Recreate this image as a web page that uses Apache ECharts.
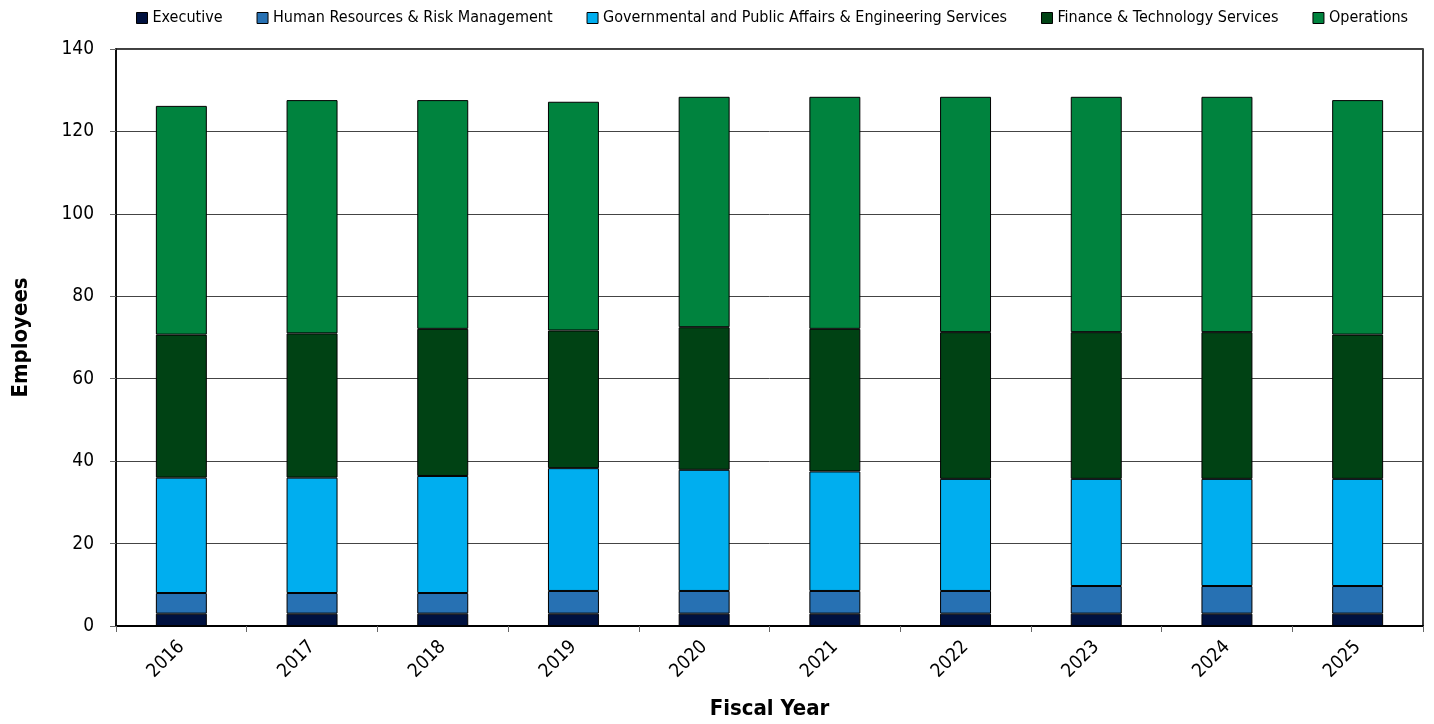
<!DOCTYPE html>
<html><head><meta charset="utf-8">
<script src="https://cdn.jsdelivr.net/npm/echarts@6/dist/echarts.min.js"></script>
<style>html,body{margin:0;padding:0;background:#fff}#c{width:1434px;height:724px}</style>
</head><body><div id="c"></div>
<script>
const years = ['2016','2017','2018','2019','2020','2021','2022','2023','2024','2025'];
const executive = [3,3,3,3,3,3,3,3,3,3];
const humanResources = [5,5,5,5.5,5.5,5.5,5.5,6.7,6.7,6.7];
const governmental = [28,28,28.4,29.8,29.4,29,27.2,26,26,26];
const finance = [34.7,35,35.7,33.4,34.6,34.6,35.6,35.6,35.6,35];
const operations = [55.5,56.6,55.5,55.5,55.9,56.3,57.1,57.1,57.1,56.9];
const yTicks = [0,20,40,60,80,100,120,140];

const FONT = '"DejaVu Sans Condensed","Liberation Sans Narrow",Roboto,sans-serif';
const names = ['Executive','Human Resources & Risk Management','Governmental and Public Affairs & Engineering Services','Finance & Technology Services','Operations'];
const colors = ['#00113f','#2771b3','#00aeef','#004214','#00833e'];
const data = [executive, humanResources, governmental, finance, operations];

const chart = echarts.init(document.getElementById('c'));
chart.setOption({
  animation:false,
  legend:{top:5,left:131,icon:'rect',itemWidth:11,itemHeight:11,itemGap:34,
    textStyle:{fontFamily:FONT,fontSize:16,color:'#000'},
    data:names.map(n=>({name:n,itemStyle:{borderColor:'#000',borderWidth:1}}))},
  grid:{left:116,right:11,top:49,bottom:98,outerBoundsMode:'none',containLabel:false,
    show:true,borderColor:'#000',borderWidth:1.5},
  xAxis:{type:'category',data:years,name:'Fiscal Year',nameLocation:'middle',nameGap:72,
    nameTextStyle:{fontFamily:FONT,fontSize:22,fontWeight:'bold',color:'#000'},
    axisLine:{lineStyle:{color:'#000',width:2}},
    axisTick:{show:true,length:6,lineStyle:{color:'#666'}},
    axisLabel:{rotate:45,fontFamily:FONT,fontSize:19,color:'#000',margin:18}},
  yAxis:{type:'value',min:0,max:140,interval:20,name:'Employees',nameLocation:'middle',nameGap:84,
    nameTextStyle:{fontFamily:FONT,fontSize:22,fontWeight:'bold',color:'#000'},
    axisLine:{show:true,lineStyle:{color:'#000',width:1.5}},
    axisTick:{show:true,length:6,lineStyle:{color:'#666'}},
    axisLabel:{fontFamily:FONT,fontSize:19,color:'#000',margin:22,
      formatter:v=>yTicks.includes(v)?String(v):''},
    splitLine:{lineStyle:{color:'#444',width:1}}},
  series:names.map((n,i)=>({name:n,type:'bar',stack:'t',data:data[i],barWidth:'39%',
    itemStyle:{color:colors[i],borderColor:'#000',borderWidth:1}}))
});
</script></body></html>
